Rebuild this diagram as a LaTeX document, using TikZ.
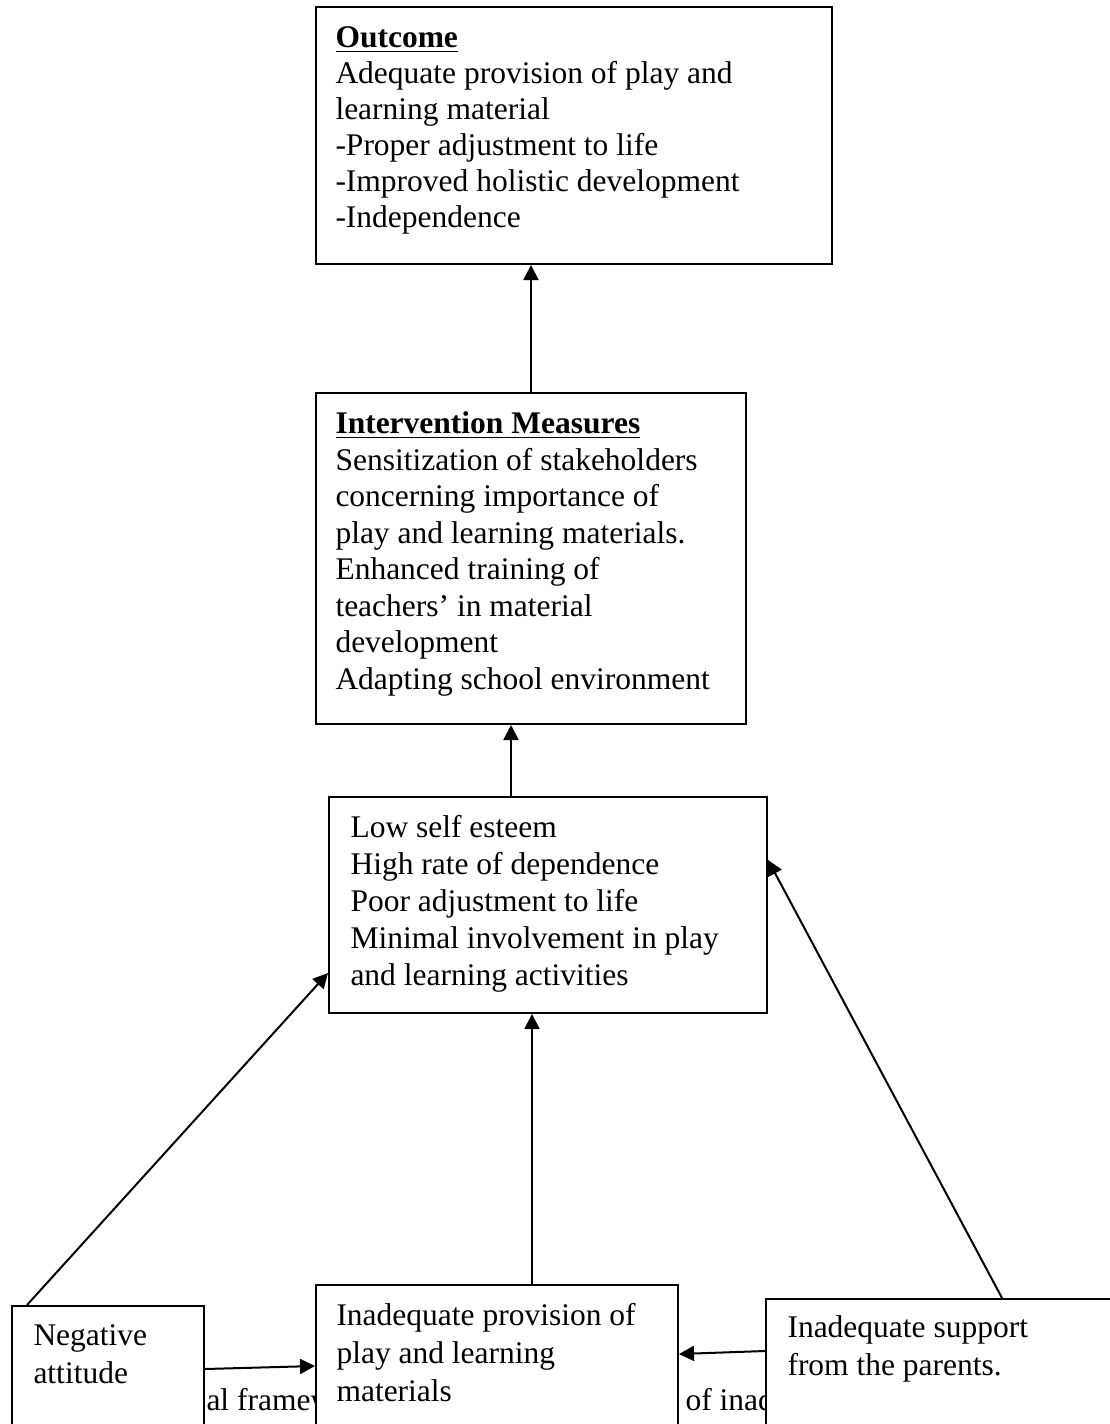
\documentclass[tikz,border=0pt]{standalone}
\usepackage{fontspec}
\setmainfont{Liberation Serif}
\usetikzlibrary{arrows.meta,calc}
\tikzset{
  boxnode/.style={draw=black, line width=0.8pt, fill=white, rectangle, inner sep=0pt, anchor=north west},
  txt/.style={inner sep=0pt, anchor=north west, align=left, font=\fontsize{12.6pt}{#1}\selectfont},
  txt/.default={14.4pt},
  hidtxt/.style={inner sep=0pt, anchor=base west, font=\fontsize{12.6pt}{14.4pt}\selectfont},
  arr/.style={line width=0.8pt, -{Triangle[length=6pt,width=6pt]}},
  plain/.style={line width=0.8pt}
}
\newcommand{\firstline}{\rule{0pt}{10pt}}
\begin{document}
\begin{tikzpicture}[x=0.4pt,y=-0.4pt]
\useasboundingbox (0,0) rectangle (1110,1424);
\clip (0,0) rectangle (1110,1424);
% partly hidden text, visible only between the bottom boxes
\begin{scope}
\clip (204,1370) rectangle (314,1424);
\node[hidtxt] (hid1) at (206,1410) {al framew};
\end{scope}
\begin{scope}
\clip (678,1370) rectangle (764,1424);
\node[hidtxt] (hid2) at (685,1410) {of inad};
\end{scope}
% boxes
\node[boxnode, minimum width=206.4pt, minimum height=102.8pt] (out) at (315,6) {};
\node[boxnode, minimum width=172pt, minimum height=132.4pt] (inv) at (315,392) {};
\node[boxnode, minimum width=175.2pt, minimum height=86.4pt] (low) at (328,796) {};
\node[boxnode, minimum width=144.8pt, minimum height=62.4pt] (inad) at (315,1284) {};
\node[boxnode, minimum width=76.8pt, minimum height=54pt] (neg) at (11,1305) {};
\node[boxnode, minimum width=146pt, minimum height=56.8pt] (par) at (765,1298) {};
% texts
\node[txt] (outT) at (335,22) {\firstline\underline{\textbf{Outcome}}\\
Adequate provision of play and\\
learning material\\
-Proper adjustment to life\\
-Improved holistic development\\
-Independence};
\node[txt=14.6pt] (invT) at (335,408) {\firstline\underline{\textbf{Intervention Measures}}\\
Sensitization of stakeholders\\
concerning importance of\\
play and learning materials.\\
Enhanced training of\\
teachers’ in material\\
development\\
Adapting school environment};
\node[txt=14.8pt] (lowT) at (350,812) {\firstline Low self esteem\\
High rate of dependence\\
Poor adjustment to life\\
Minimal involvement in play\\
and learning activities};
\node[txt=15.2pt] (inadT) at (336,1300) {\firstline Inadequate provision of\\
play and learning\\
materials};
\node[txt=15.2pt] (negT) at (33,1320) {\firstline Negative\\
attitude};
\node[txt=15.2pt] (parT) at (787,1312) {\firstline Inadequate support\\
from the parents.};
% connectors
\draw[arr] ($(inv.north west)+(216,0)$) -- ($(out.south west)+(216,0)$);
\draw[arr] ($(low.north west)+(183,0)$) -- ($(inv.south west)+(196,0)$);
\draw[arr] ($(inad.north west)+(217,0)$) -- ($(low.south west)+(204,0)$);
\draw[arr] ($(neg.north west)+(16,0)$) -- ($(low.south west)+(0,-41)$);
\draw[arr] ($(par.north west)+(237,0)$) -- ($(low.north east)+(0,64)$);
\draw[arr] ($(neg.north east)+(0,64)$) -- ($(inad.north west)+(0,82)$);
\draw[arr] ($(par.north west)+(0,53)$) -- ($(inad.north east)+(0,70)$);
\end{tikzpicture}
\end{document}
